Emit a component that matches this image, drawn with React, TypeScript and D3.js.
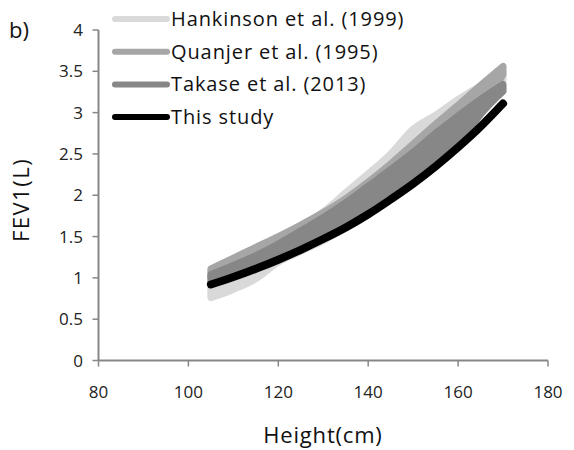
import React from "react";
import * as d3 from "d3";

const heights = [105, 110, 115, 120, 125, 130, 135, 140, 145, 150, 155, 160, 165, 170];
const thisStudy = [0.92, 1.01, 1.11, 1.22, 1.34, 1.47, 1.61, 1.77, 1.95, 2.14, 2.35, 2.58, 2.83, 3.11];
const takaseUpper = [1.04, 1.15, 1.27, 1.41, 1.57, 1.73, 1.91, 2.11, 2.31, 2.52, 2.75, 2.96, 3.16, 3.34];
const takaseLower = [0.95, 1.03, 1.12, 1.23, 1.35, 1.48, 1.62, 1.78, 1.96, 2.15, 2.36, 2.6, 2.98, 3.26];
const quanjerUpper = [1.11, 1.24, 1.37, 1.5, 1.64, 1.79, 1.96, 2.16, 2.38, 2.62, 2.86, 3.09, 3.33, 3.56];
const quanjerLower = [1.0, 1.1, 1.2, 1.32, 1.44, 1.58, 1.72, 1.9, 2.1, 2.32, 2.56, 2.8, 3.08, 3.46];
const hankUpper = [0.95, 1.12, 1.3, 1.46, 1.62, 1.8, 2.03, 2.26, 2.5, 2.8, 2.97, 3.16, 3.32, 3.45];
const hankLower = [0.76, 0.86, 0.99, 1.19, 1.32, 1.45, 1.6, 1.76, 1.94, 2.14, 2.38, 2.66, 2.98, 3.38];

const xTicks = [80, 100, 120, 140, 160, 180];
const yTicks = [0, 0.5, 1, 1.5, 2, 2.5, 3, 3.5, 4];
const yTickLabels = ["0", "0.5", "1", "1.5", "2", "2.5", "3", "3.5", "4"];

const legendNames = ["Hankinson et al. (1999)", "Quanjer et al. (1995)", "Takase et al. (2013)", "This study"];
const colors = ["#d9d9d9", "#a6a6a6", "#878787", "#000000"];

const FONT = "'Open Sans', 'Noto Sans', sans-serif";

export default function App() {
  const x = d3.scaleLinear().domain([80, 180]).range([98.5, 548]);
  const y = d3.scaleLinear().domain([0, 4]).range([360.5, 30]);
  const axisColor = "#878787";

  const band = (lo: number[], hi: number[]) =>
    d3
      .area<number>()
      .x((_, i) => x(heights[i]))
      .y0((_, i) => y(lo[i]))
      .y1((_, i) => y(hi[i]))
      .curve(d3.curveMonotoneX)(heights) || "";

  const line = d3
    .line<number>()
    .x((_, i) => x(heights[i]))
    .y((v) => y(v))
    .curve(d3.curveMonotoneX)(thisStudy) || "";

  const bands = [
    { lo: hankLower, hi: hankUpper, c: colors[0] },
    { lo: quanjerLower, hi: quanjerUpper, c: colors[1] },
    { lo: takaseLower, hi: takaseUpper, c: colors[2] },
  ];

  return (
    <svg width={574} height={450} style={{ position: "absolute", left: 0, top: 0, background: "#fff" }}>
      <rect width={574} height={450} fill="#fff" />
      <line x1={x(80)} x2={x(80)} y1={y(4)} y2={y(0)} stroke={axisColor} strokeWidth={2} />
      <line x1={x(80)} x2={x(180)} y1={y(0)} y2={y(0)} stroke={axisColor} strokeWidth={2} />
      {yTicks.map((t, i) => (
        <g key={"y" + t}>
          <line x1={x(80) - 6} x2={x(80)} y1={y(t)} y2={y(t)} stroke={axisColor} strokeWidth={1.5} />
          <text x={83} y={y(t) + 6} textAnchor="end" fontFamily={FONT} fontSize={17} fill="#222">
            {yTickLabels[i]}
          </text>
        </g>
      ))}
      {xTicks.map((t) => (
        <g key={"x" + t}>
          <line x1={x(t)} x2={x(t)} y1={y(0)} y2={y(0) + 6} stroke={axisColor} strokeWidth={1.5} />
          <text x={x(t)} y={398} textAnchor="middle" fontFamily={FONT} fontSize={17} fill="#222">
            {t}
          </text>
        </g>
      ))}
      {bands.map((b, i) => (
        <path key={i} d={band(b.lo, b.hi)} fill={b.c} stroke={b.c} strokeWidth={7} strokeLinejoin="round" strokeLinecap="round" />
      ))}
      <path d={line} fill="none" stroke="#000" strokeWidth={8} strokeLinecap="round" />
      {legendNames.map((n, i) => (
        <g key={n}>
          <line x1={115} x2={167} y1={19 + i * 32.7} y2={19 + i * 32.7} stroke={colors[i]} strokeWidth={6} strokeLinecap="round" />
          <text x={171} y={19 + i * 32.7 + 7} fontFamily={FONT} fontSize={20} letterSpacing={0.9} fill="#111">
            {n}
          </text>
        </g>
      ))}
      <text x={9} y={38} fontFamily={FONT} fontSize={22} fill="#111">b)</text>
      <text transform="translate(29,200) rotate(-90)" textAnchor="middle" fontFamily={FONT} fontSize={22} letterSpacing={1.5} fill="#111">
        FEV1(L)
      </text>
      <text x={323} y={443} textAnchor="middle" fontFamily={FONT} fontSize={22} letterSpacing={0.8} fill="#111">
        Height(cm)
      </text>
    </svg>
  );
}
